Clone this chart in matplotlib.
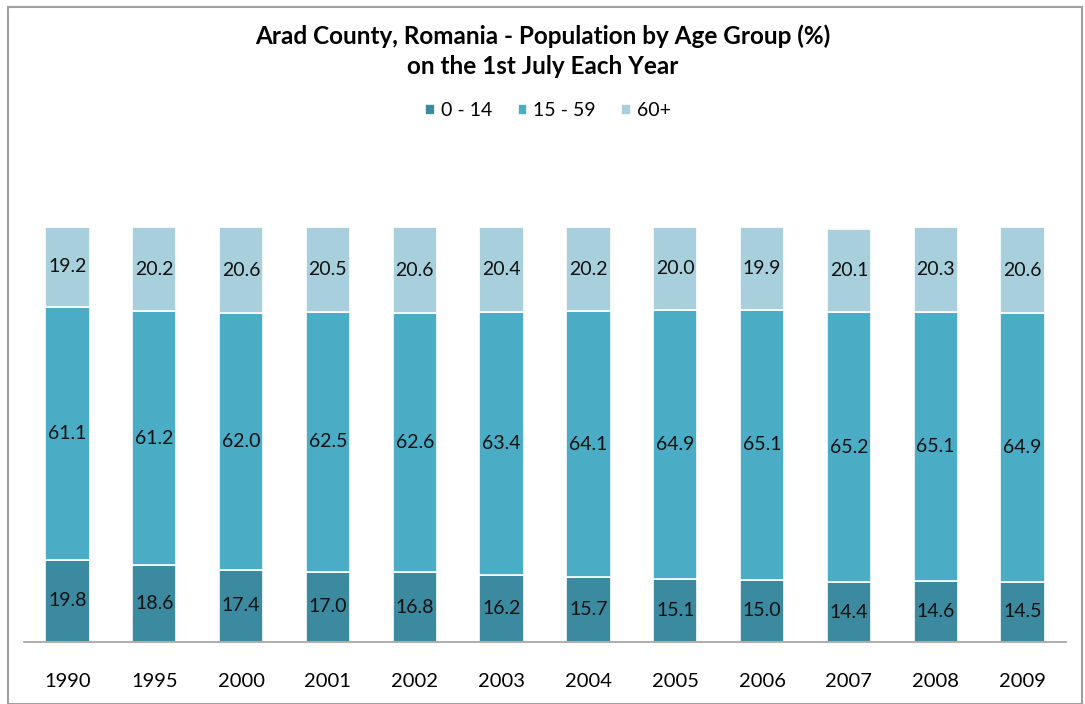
import matplotlib
matplotlib.use("Agg")
import matplotlib.pyplot as plt
from matplotlib.patches import Rectangle
import numpy as np

plt.rcParams['font.family'] = ['Lato', 'DejaVu Sans']

years = ["1990", "1995", "2000", "2001", "2002", "2003", "2004", "2005", "2006", "2007", "2008", "2009"]
age_0_14 = [19.8, 18.6, 17.4, 17.0, 16.8, 16.2, 15.7, 15.1, 15.0, 14.4, 14.6, 14.5]
age_15_59 = [61.1, 61.2, 62.0, 62.5, 62.6, 63.4, 64.1, 64.9, 65.1, 65.2, 65.1, 64.9]
age_60_plus = [19.2, 20.2, 20.6, 20.5, 20.6, 20.4, 20.2, 20.0, 19.9, 20.1, 20.3, 20.6]

series = [
    ("0 - 14", age_0_14, "#3C8A9F"),
    ("15 - 59", age_15_59, "#4BACC6"),
    ("60+", age_60_plus, "#A8CFDC"),
]

W, H = 1085, 704
fig = plt.figure(figsize=(W / 100, H / 100), dpi=100)

# outer chart frame
fig.patches.append(Rectangle((8 / W, 0), (1082 - 8) / W, (H - 7) / H,
                             transform=fig.transFigure, fill=False,
                             edgecolor="#A0A0A0", linewidth=1.5))

ax = fig.add_axes([24 / W, (H - 642) / H, (1066 - 24) / W, (642 - 227) / H])
x = np.arange(len(years))
bottom = np.zeros(len(years))
handles = []
for name, vals, color in series:
    vals = np.array(vals)
    bars = ax.bar(x, vals, width=0.51, bottom=bottom, color=color,
                  edgecolor="white", linewidth=1.2, label=name)
    handles.append(bars)
    for xi, b, v in zip(x, bottom, vals):
        ax.text(xi, b + v / 2, f"{v:.1f}", ha="center", va="center",
                fontsize=14, color="#111111")
    bottom += vals

ax.set_xlim(-0.5, len(years) - 0.5)
ax.set_ylim(0, 100.1)
ax.set_yticks([])
ax.set_xticks(x)
ax.set_xticklabels(years, fontsize=14.5)
ax.tick_params(axis="x", length=0, pad=22)
for s in ["top", "right", "left"]:
    ax.spines[s].set_visible(False)
ax.spines["bottom"].set_color("#A0A0A0")
ax.spines["bottom"].set_linewidth(1.2)

fig.text(0.5, (H - 36) / H, "Arad County, Romania - Population by Age Group (%)",
         ha="center", va="center", fontsize=17.5, fontweight="bold")
fig.text(0.5, (H - 67) / H, "on the 1st July Each Year",
         ha="center", va="center", fontsize=17.5, fontweight="bold")

fig.legend(handles=handles, labels=[s[0] for s in series], loc="center",
           bbox_to_anchor=(548 / W, (H - 111) / H), ncol=3, frameon=False,
           fontsize=14, handlelength=0.5, handleheight=0.5,
           handletextpad=0.3, columnspacing=1.3)

fig.savefig("out.png", dpi=100)
